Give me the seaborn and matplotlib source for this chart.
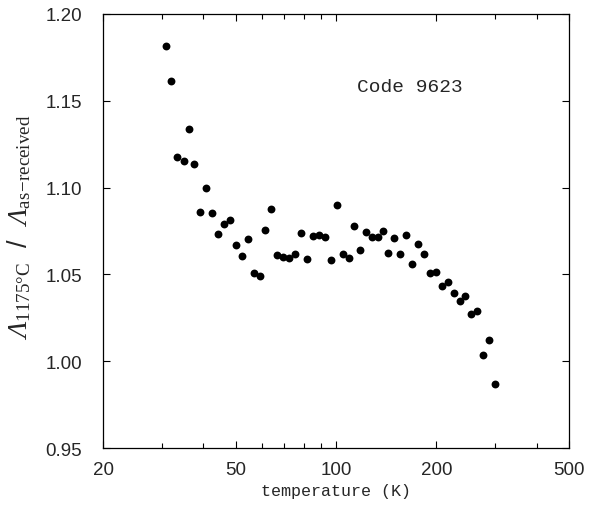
import pandas as pd
import matplotlib
matplotlib.use('Agg')
import matplotlib.pyplot as plt
from matplotlib.ticker import FixedLocator, NullFormatter
import seaborn as sns

# temperature (K) and conductivity ratio
temperature = [30.9, 32.0, 33.4, 34.9, 36.2, 37.6, 39.1, 40.8, 42.5, 44.2,
               46.0, 48.0, 50.0, 52.1, 54.3, 56.6, 59.0, 61.4, 63.8, 66.7,
               69.5, 72.4, 75.3, 78.5, 81.8, 85.5, 88.9, 92.7, 96.6, 100.7,
               105.0, 109.4, 113.5, 118.0, 123.0, 128.2, 133.4, 138.4, 143.5, 149.3,
               155.9, 162.2, 169.4, 176.6, 183.6, 191.4, 199.5, 208.0, 216.3, 225.5,
               235.0, 244.3, 254.1, 264.9, 276.1, 287.2, 299.9]
ratio = [1.1816, 1.1616, 1.1176, 1.1155, 1.1338, 1.1138, 1.0858, 1.0996, 1.0852, 1.0731,
         1.0790, 1.0815, 1.0669, 1.0608, 1.0706, 1.0506, 1.0488, 1.0757, 1.0877, 1.0610,
         1.0602, 1.0593, 1.0618, 1.0738, 1.0589, 1.0719, 1.0727, 1.0714, 1.0585, 1.0900,
         1.0619, 1.0594, 1.0777, 1.0641, 1.0744, 1.0717, 1.0714, 1.0752, 1.0623, 1.0709,
         1.0620, 1.0729, 1.0562, 1.0677, 1.0616, 1.0506, 1.0516, 1.0431, 1.0454, 1.0395,
         1.0347, 1.0377, 1.0272, 1.0291, 1.0036, 1.0122, 0.9869]

x_labels = [20, 50, 100, 200, 500]
x_minor = [30, 40, 60, 70, 80, 90, 300, 400]
y_ticks = [0.95, 1.00, 1.05, 1.10, 1.15, 1.20]

df = pd.DataFrame({'temperature': temperature, 'ratio': ratio})

sns.set_style('ticks')
plt.rcParams['font.family'] = ['Liberation Sans', 'DejaVu Sans']
# italic capital lambda via the sf slot (the 'it' slot forces Greek capitals upright)
plt.rcParams['mathtext.fontset'] = 'custom'
plt.rcParams['mathtext.rm'] = 'Liberation Serif'
plt.rcParams['mathtext.it'] = 'Liberation Serif:italic'
plt.rcParams['mathtext.sf'] = 'Liberation Serif:italic'

fig = plt.figure(figsize=(5.9, 5.1), dpi=100)
ax = fig.add_axes([0.1746, 0.1196, 0.7898, 0.851])

sns.scatterplot(data=df, x='temperature', y='ratio', ax=ax,
                color='black', s=32, linewidth=0)

ax.set_xscale('log')
ax.set_xlim(20, 500)
ax.set_ylim(0.95, 1.20)
ax.xaxis.set_major_locator(FixedLocator(x_labels))
ax.xaxis.set_minor_locator(FixedLocator(x_minor))
ax.xaxis.set_minor_formatter(NullFormatter())
ax.set_xticklabels([str(v) for v in x_labels])
ax.set_yticks(y_ticks)
ax.set_yticklabels([f'{v:.2f}' for v in y_ticks])

ax.tick_params(which='both', direction='in', top=True, right=True,
               labelsize=13.5, width=0.8, color='black')
ax.tick_params(axis='x', which='major', length=5, pad=9)
ax.tick_params(axis='y', which='major', length=5, pad=15)
ax.tick_params(which='minor', length=3.5)
for sp in ax.spines.values():
    sp.set_linewidth(0.9)
    sp.set_color('black')

ax.set_xlabel('temperature (K)', family='Liberation Mono', fontsize=12, labelpad=4)
ax.set_ylabel(r'$\mathsf{\Lambda}_{\mathrm{1175°C}}$  /  $\mathsf{\Lambda}_{\mathrm{as\!-\!received}}$',
              fontsize=19.5)
ax.yaxis.set_label_coords(-0.15, 0.51)

ax.text(116, 1.1585, 'Code 9623', family='Liberation Mono', fontsize=14,
        ha='left', va='center')

fig.savefig('out.png', dpi=100)
